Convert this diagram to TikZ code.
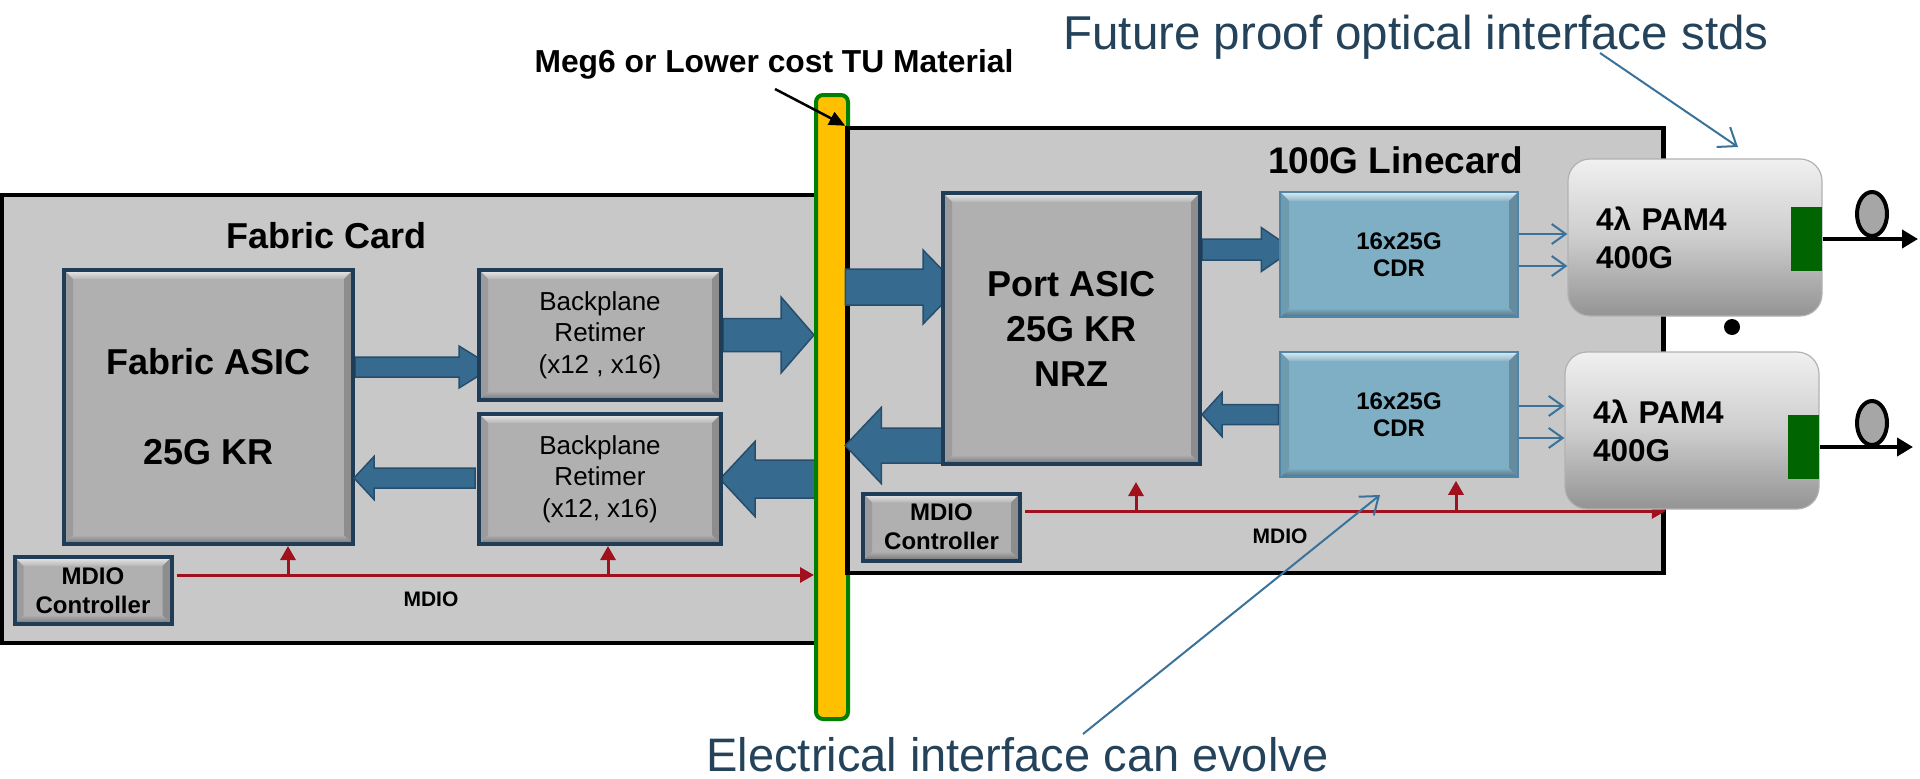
\documentclass[tikz,border=0pt]{standalone}
\usepackage{fontspec}
\setmainfont{Liberation Sans}
\usetikzlibrary{calc,arrows.meta,shapes.geometric}
\pgfdeclarelayer{l0}\pgfdeclarelayer{l1}\pgfdeclarelayer{l2}\pgfdeclarelayer{l3}\pgfdeclarelayer{l4}
\pgfsetlayers{l0,l1,l2,l3,l4,main}
\definecolor{cardgray}{HTML}{C8C8C8}
\definecolor{boxgray}{HTML}{B0B0B0}
\definecolor{boxborder}{HTML}{1F3D56}
\definecolor{arrowblue}{HTML}{376A8F}
\definecolor{arrowdark}{HTML}{264E6C}
\definecolor{cdrblue}{HTML}{7FAFC5}
\definecolor{cdrborder}{HTML}{4F86A5}
\definecolor{mdred}{HTML}{A0111D}
\definecolor{baryellow}{HTML}{FFC000}
\definecolor{bargreen}{HTML}{008000}
\definecolor{modgray}{HTML}{CDCDCD}
\definecolor{portgreen}{HTML}{006400}
\definecolor{anntext}{HTML}{24435B}
\definecolor{annline}{HTML}{3A729A}
\definecolor{fibergray}{HTML}{A6A6A6}
\newcommand\fsz[2]{\fontsize{#1}{#2}\selectfont}
\tikzset{
  bev/.style={fill=#1, path picture={
    \coordinate (bvA) at (path picture bounding box.north west);
    \coordinate (bvB) at (path picture bounding box.north east);
    \coordinate (bvC) at (path picture bounding box.south east);
    \coordinate (bvD) at (path picture bounding box.south west);
    \coordinate (bviA) at ([shift={(9pt,-9pt)}]bvA);
    \coordinate (bviB) at ([shift={(-9pt,-9pt)}]bvB);
    \coordinate (bviC) at ([shift={(-9pt,9pt)}]bvC);
    \coordinate (bviD) at ([shift={(9pt,9pt)}]bvD);
    \shade[top color=#1!25!white, bottom color=#1!92!white] (bvA)--(bvB)--(bviB)--(bviA)--cycle;
    \shade[top color=#1, bottom color=#1!65!black] (bviD)--(bviC)--(bvC)--(bvD)--cycle;
    \fill[#1!88!black] (bvA)--(bviA)--(bviD)--(bvD)--cycle;
    \fill[#1!80!black] (bvB)--(bviB)--(bviC)--(bvC)--cycle;
  }},
  graybox/.style={bev=boxgray, draw=boxborder, line width=4pt, inner sep=0pt, align=center, text=black},
  cdrbox/.style={bev=cdrblue, draw=cdrborder, line width=1.5pt, inner sep=0pt, align=center, text=black},
  card/.style={fill=cardgray, draw=black, line width=4.5pt, inner sep=0pt},
  barstyle/.style={fill=baryellow, draw=bargreen, line width=4pt, rounded corners=7pt, inner sep=0pt},
  blockarr/.style={fill=arrowblue, draw=arrowdark, line width=1.5pt},
  mdioarr/.style={draw=mdred, line width=3pt, -{Triangle[length=14pt,width=15pt]}},
  thinarr/.style={draw=annline, line width=2pt, -{Straight Barb[length=14pt,width=20pt]}},
  annarr/.style={draw=annline, line width=2pt, -{Straight Barb[length=16pt,width=24pt]}},
  blackarr/.style={draw=black, line width=2.5pt, -{Triangle[length=16pt,width=14pt]}},
  fiber/.style={draw=black, line width=4pt, -{Triangle[length=16pt,width=18pt]}},
  module/.style={rounded corners=22pt, draw=black!30, line width=1.2pt, inner ysep=0pt,
    top color=white!70!modgray, bottom color=modgray!72!black, middle color=modgray},
  portblk/.style={fill=portgreen, inner sep=0pt},
}
\newcommand\blockarrow[5]{%
  \path[blockarr] let \p1=(#1), \p2=(#2), \n1={sign(\x2-\x1)} in
    (\x1,{\y1+#3}) -- ({\x2-(\n1)*#5},{\y1+#3}) -- ({\x2-(\n1)*#5},{\y1+#4}) -- (\x2,\y1)
    -- ({\x2-(\n1)*#5},{\y1-#4}) -- ({\x2-(\n1)*#5},{\y1-#3}) -- (\x1,{\y1-#3}) -- cycle;}
\begin{document}
\begin{tikzpicture}[x=1pt,y=-1pt]
\useasboundingbox (0,0) rectangle (1920,779);

% ---------- cards and bar
\begin{pgfonlayer}{l0}
\node[card, minimum width=830pt, minimum height=448pt] (fcard) at (417,419) {};
\end{pgfonlayer}
\begin{pgfonlayer}{l2}
\node[barstyle, minimum width=32pt, minimum height=624pt] (bar) at (832,407) {};
\end{pgfonlayer}
\begin{pgfonlayer}{l3}
\node[card, minimum width=816pt, minimum height=445pt] (lcard) at (1255.5,350.5) {};
\end{pgfonlayer}

% ---------- fabric card
\node[font=\fsz{36}{40}\bfseries, anchor=base] (fctitle) at (327,248) {Fabric Card};
\node[graybox, minimum width=289pt, minimum height=274pt, font=\fsz{36}{90}\bfseries] (fasic) at (208.5,407) {Fabric ASIC\\25G KR};
\node[graybox, minimum width=242pt, minimum height=130pt, font=\fsz{26}{31.5}] (rt1) at (600,335) {Backplane\\Retimer\\(x12 , x16)};
\node[graybox, minimum width=242pt, minimum height=130pt, font=\fsz{26}{31.5}] (rt2) at (600,479) {Backplane\\Retimer\\(x12, x16)};
\node[graybox, minimum width=157pt, minimum height=67pt, font=\fsz{24}{29}\bfseries] (fmdio) at (93,590.5) {MDIO\\Controller};
\node[font=\fsz{21}{24}\bfseries, anchor=base] (fmlabel) at (431,606) {MDIO};

% ---------- linecard
\node[font=\fsz{37}{40}\bfseries, anchor=base] (lctitle) at (1395.5,173) {100G Linecard};
\node[graybox, minimum width=257pt, minimum height=271pt, font=\fsz{36}{45}\bfseries] (pasic) at (1071.5,328.5) {Port ASIC\\25G KR\\NRZ};
\node[cdrbox, minimum width=238pt, minimum height=125pt, font=\fsz{24}{27}\bfseries] (cdr1) at (1399,254.5) {16x25G\\CDR};
\node[cdrbox, minimum width=238pt, minimum height=125pt, font=\fsz{24}{27}\bfseries] (cdr2) at (1399,414.5) {16x25G\\CDR};
\node[graybox, minimum width=157pt, minimum height=67pt, font=\fsz{24}{29}\bfseries] (lmdio) at (941.5,527) {MDIO\\Controller};
\node[font=\fsz{21}{24}\bfseries, anchor=base] (lmlabel) at (1280,543) {MDIO};

% ---------- optical modules
\node[module, text width=198pt, inner xsep=28pt, minimum height=157pt, font=\fsz{31.5}{38}\bfseries, align=left] (mod1) at (1695,237.5) {4λ PAM4\\400G};
\node[module, text width=198pt, inner xsep=28pt, minimum height=157pt, font=\fsz{31.5}{38}\bfseries, align=left] (mod2) at (1692,430.5) {4λ PAM4\\400G};
\node[portblk, anchor=east, minimum width=31pt, minimum height=64pt] (g1) at ([yshift=-1.5pt]mod1.east) {};
\node[portblk, anchor=east, minimum width=31pt, minimum height=64pt] (g2) at ([yshift=-16.5pt]mod2.east) {};
\node[circle, fill=black, minimum size=16pt, inner sep=0pt] (dot) at (1732,327) {};
\coordinate (fe1) at (1918,239);
\coordinate (fe2) at (1913,447);
\begin{pgfonlayer}{l4}
\draw[fiber] (g1.east) -- (g1.east -| fe1);
\draw[fiber] (g2.east) -- (g2.east -| fe2);
\end{pgfonlayer}
\node[ellipse, draw=black, line width=4pt, fill=fibergray, minimum width=30pt, minimum height=44pt, inner sep=0pt] (el1) at (1872,214) {};
\node[ellipse, draw=black, line width=4pt, fill=fibergray, minimum width=30pt, minimum height=44pt, inner sep=0pt] (el2) at (1872,423) {};

% ---------- fabric arrows
\begin{pgfonlayer}{l1}
\blockarrow{[yshift=40pt]fasic.east}{[xshift=16pt]rt1.west}{10pt}{21pt}{34pt}
\blockarrow{rt1.east}{bar.west}{16.5pt}{38pt}{33pt}
\blockarrow{bar.center |- rt2.east}{[xshift=-3pt]rt2.east}{19pt}{37.5pt}{35pt}
\coordinate (fl) at ([yshift=15.5pt]fmdio.east);
\draw[mdioarr, shorten <=3pt] (fl) -- (fl -| bar.west);
\end{pgfonlayer}
\blockarrow{[xshift=-2pt,yshift=1pt]rt2.west}{[xshift=-1pt]fasic.east}{10pt}{21.5pt}{20pt}
\coordinate (fu1) at ([xshift=79.5pt]fasic.south);
\coordinate (fu2) at ([xshift=8pt]rt2.south);
\draw[mdioarr] (fl -| fu1) -- (fu1);
\draw[mdioarr] (fl -| fu2) -- (fu2);

% ---------- linecard arrows
\coordinate (pa1) at ([yshift=41.5pt]pasic.west);
\coordinate (pa2) at ([xshift=20pt,yshift=-117pt]pasic.west);
\coordinate (pc1) at ([yshift=5pt]cdr1.west);
\coordinate (pc2) at (cdr2.west);
\coordinate (ll) at ([yshift=16pt]lmdio.east);
\begin{pgfonlayer}{l4}
\blockarrow{pa1 -| lcard.west}{[xshift=18pt]pa1}{18pt}{37pt}{36pt}
\blockarrow{pa2}{pa2 -| lcard.west}{17.5pt}{38pt}{36pt}
\blockarrow{pc1 -| pasic.east}{[xshift=14pt]pc1}{10.5pt}{22pt}{32pt}
\draw[mdioarr, shorten <=3pt] (ll) -- (ll -| lcard.east);
\end{pgfonlayer}
\blockarrow{[xshift=-1pt]pc2}{pc2 -| pasic.east}{10pt}{22pt}{20pt}
\coordinate (lu1) at ([xshift=64.5pt,yshift=-16pt]pasic.south);
\coordinate (lu2) at ([xshift=57pt,yshift=-3pt]cdr2.south);
\draw[mdioarr] (ll -| lu1) -- (lu1);
\draw[mdioarr] (ll -| lu2) -- (lu2);

% CDR to module thin arrows
\coordinate (t1) at ([yshift=20.5pt]cdr1.east);
\coordinate (t2) at ([yshift=-11.5pt]cdr1.east);
\coordinate (t3) at ([yshift=8.5pt]cdr2.east);
\coordinate (t4) at ([yshift=-23.5pt]cdr2.east);
\draw[thinarr] (t1) -- (t1 -| mod1.west);
\draw[thinarr] (t2) -- (t2 -| mod1.west);
\draw[thinarr] (t3) -- (t3 -| mod2.west);
\draw[thinarr] (t4) -- (t4 -| mod2.west);

% ---------- annotations
\node[font=\fsz{31.8}{36}\bfseries, anchor=base west] (megtext) at (531,72) {Meg6 or Lower cost TU Material};
\coordinate (ma) at (775,89);
\draw[blackarr] (ma) -- (lcard.north west);
\node[font=\fsz{47.5}{52}, text=anntext, anchor=base west] (futtext) at (1060,49) {Future proof optical interface stds};
\coordinate (fa0) at (1600,53);
\coordinate (fa1) at (1738,147);
\draw[annarr] (fa0) -- (fa1);
\node[font=\fsz{47}{52}, text=anntext, anchor=base west] (eltext) at (703,771) {Electrical interface can evolve};
\coordinate (ea0) at (1083,734);
\coordinate (ea1) at (1380,495);
\draw[annarr] (ea0) -- (ea1);
\end{tikzpicture}
\end{document}
